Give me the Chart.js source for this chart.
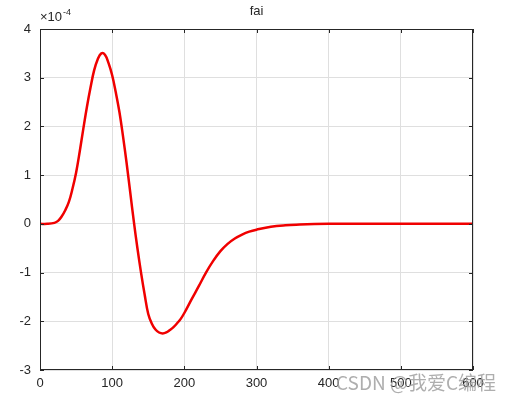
<!DOCTYPE html>
<html>
<head>
<meta charset="utf-8">
<script src="https://cdn.jsdelivr.net/npm/chart.js@4/dist/chart.umd.min.js"></script>
<style>
  html, body { margin: 0; padding: 0; background: #fff; }
  #wrap { width: 511px; height: 403px; }
</style>
</head>
<body>
<div id="wrap"><canvas id="faiChart" width="511" height="403"></canvas></div>
<script>
// values, y in units of 1e-4
var xValues = [0, 10, 20, 25, 30, 35, 40, 45, 50, 55, 60, 65, 70, 75, 80, 85, 90, 95, 100, 105, 110, 115, 120, 125,
    130, 135, 140, 145, 150, 155, 160, 165, 170, 175, 180, 185, 190, 195, 200, 210, 220, 230, 240, 250, 260, 270,
    280, 290, 300, 320, 340, 360, 380, 400, 450, 500, 550, 600];
var faiValues = [0, 0, 0.02, 0.06, 0.15, 0.28, 0.45, 0.72, 1.05, 1.48, 1.95, 2.4, 2.8, 3.15, 3.38, 3.5, 3.47, 3.3, 3.05, 2.7, 2.3, 1.8, 1.25, 0.65,
    0.05, -0.5, -1.0, -1.45, -1.85, -2.05, -2.17, -2.23, -2.25, -2.23, -2.18, -2.12, -2.04, -1.95, -1.83, -1.55, -1.28, -1.0, -0.76, -0.56, -0.41, -0.3,
    -0.22, -0.16, -0.12, -0.06, -0.03, -0.015, -0.005, 0, 0, 0, 0, 0];
var xTicks = [0, 100, 200, 300, 400, 500, 600];
var yTicks = [-3, -2, -1, 0, 1, 2, 3, 4];

var textColor = "#262626";
var fontFamily = "'Liberation Sans', Arial, sans-serif";

function renderFaiChart() {
    var ctx = document.getElementById("faiChart").getContext("2d");

    var points = xValues.map(function (x, i) {
        return { x: x, y: faiValues[i] };
    });

    var extras = {
        id: "extras",
        afterDraw: function (chart) {
            var c = chart.ctx;
            var area = chart.chartArea;
            var xs = chart.scales.x, ys = chart.scales.y;
            c.save();
            // box
            c.strokeStyle = "#262626";
            c.lineWidth = 1;
            c.strokeRect(area.left + 0.5, area.top + 0.5, area.right - area.left - 1, area.bottom - area.top - 1);
            // inward ticks
            c.beginPath();
            xTicks.forEach(function (t) {
                var px = Math.round(xs.getPixelForValue(t)) + 0.5;
                c.moveTo(px, area.bottom); c.lineTo(px, area.bottom - 4);
                c.moveTo(px, area.top); c.lineTo(px, area.top + 4);
            });
            yTicks.forEach(function (t) {
                var py = Math.round(ys.getPixelForValue(t)) + 0.5;
                c.moveTo(area.left, py); c.lineTo(area.left + 4, py);
                c.moveTo(area.right, py); c.lineTo(area.right - 4, py);
            });
            c.stroke();
            // title
            c.fillStyle = textColor;
            c.font = "13px " + fontFamily;
            c.textAlign = "center";
            c.textBaseline = "middle";
            c.fillText("fai", (area.left + area.right) / 2, 11);
            // exponent
            c.textAlign = "left";
            c.textBaseline = "alphabetic";
            c.fillText("\u00d710", area.left, 21);
            var w = c.measureText("\u00d710").width;
            c.font = "9px " + fontFamily;
            c.fillText("-4", area.left + w + 1, 15);
            // watermark
            c.font = "19px 'Noto Sans CJK SC', sans-serif";
            c.fillStyle = "rgba(160,160,160,0.85)";
            c.textAlign = "left";
            c.textBaseline = "middle";
            c.fillText("CSDN @\u6211\u7231C\u7f16\u7a0b", 336, 383);
            c.restore();
        }
    };

    var myChart = new Chart(ctx, {
        type: "line",
        data: {
            datasets: [
                {
                    label: "fai",
                    data: points,
                    borderColor: "#f00000",
                    borderWidth: 2.5,
                    pointRadius: 0,
                    fill: false,
                    tension: 0.4,
                },
            ],
        },
        options: {
            responsive: false,
            animation: false,
            layout: { padding: { top: 29, right: 38, bottom: 0, left: 0 } },
            plugins: { legend: { display: false }, tooltip: { enabled: false } },
            scales: {
                x: {
                    type: "linear",
                    min: 0,
                    max: 600,
                    afterBuildTicks: function (scale) {
                        scale.ticks = xTicks.map(function (v) { return { value: v }; });
                    },
                    afterFit: function (scale) { scale.height = 33; },
                    grid: { color: "#dfdfdf", drawTicks: false, lineWidth: 1 },
                    border: { display: false },
                    ticks: {
                        color: textColor,
                        font: { size: 13, family: fontFamily },
                        padding: 6,
                        maxRotation: 0,
                    },
                },
                y: {
                    min: -3,
                    max: 4,
                    afterBuildTicks: function (scale) {
                        scale.ticks = yTicks.map(function (v) { return { value: v }; });
                    },
                    afterFit: function (scale) { scale.width = 40; },
                    grid: { color: "#dfdfdf", drawTicks: false, lineWidth: 1 },
                    border: { display: false },
                    ticks: {
                        color: textColor,
                        font: { size: 13, family: fontFamily },
                        padding: 9,
                    },
                },
            },
        },
        plugins: [extras],
    });
}

document.addEventListener("DOMContentLoaded", function () {
    renderFaiChart();
});
</script>
</body>
</html>
